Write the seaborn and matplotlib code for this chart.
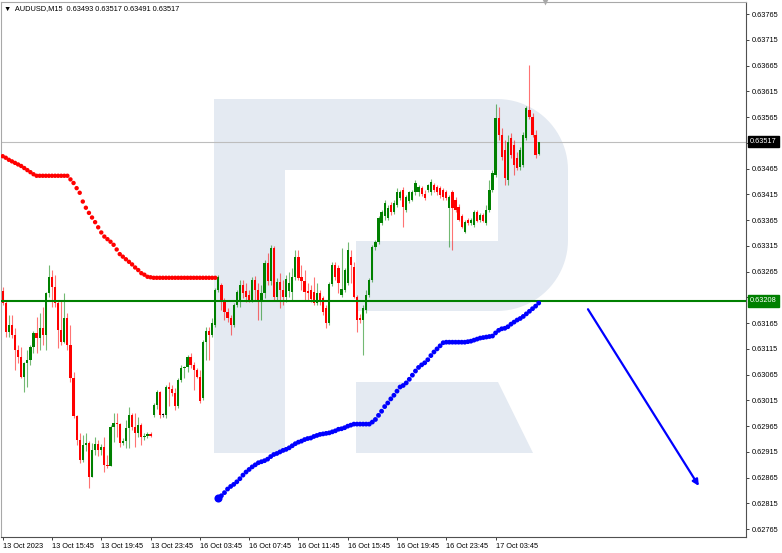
import numpy as np
import pandas as pd
import matplotlib
matplotlib.use("Agg")
import matplotlib.pyplot as plt
import matplotlib.transforms as mtransforms
from matplotlib.patches import Polygon
import seaborn as sns

symbol = "AUDUSD,M15"

# M15 bars, 13 Oct 11:45 -> 13 Oct 23:45, then 16 Oct 00:00 onwards
opens = [
    0.63227, 0.63204, 0.63148, 0.63161, 0.63142, 0.63113, 0.63099, 0.63060, 0.63088, 0.63094,
    0.63119, 0.63146, 0.63136, 0.63156, 0.63142, 0.63224, 0.63255, 0.63235, 0.63204, 0.63152,
    0.63128, 0.63175, 0.63123, 0.63059, 0.62985, 0.62938, 0.62899, 0.62929, 0.62932, 0.62866,
    0.62919, 0.62930, 0.62919, 0.62925, 0.62890, 0.62888, 0.62963, 0.62971, 0.62969, 0.62932,
    0.62936, 0.62962, 0.62987, 0.62963, 0.62952, 0.62967, 0.62944, 0.62946, 0.62950, 0.62987,
    0.63006, 0.63031, 0.62987, 0.62987, 0.63041, 0.63037, 0.63030, 0.63004, 0.63055, 0.63078,
    0.63080, 0.63099, 0.63084, 0.63074, 0.63060, 0.63020, 0.63128, 0.63150, 0.63142, 0.63161,
    0.63229, 0.63239, 0.63206, 0.63187, 0.63175, 0.63161, 0.63200, 0.63206, 0.63239, 0.63227,
    0.63220, 0.63210, 0.63249, 0.63229, 0.63210, 0.63224, 0.63282, 0.63247, 0.63311, 0.63216,
    0.63245, 0.63229, 0.63216, 0.63227, 0.63226, 0.63255, 0.63293, 0.63255, 0.63247, 0.63227,
    0.63229, 0.63226, 0.63204, 0.63224, 0.63214, 0.63194, 0.63165, 0.63241, 0.63278, 0.63272,
    0.63220, 0.63229, 0.63243, 0.63293, 0.63274, 0.63216, 0.63175, 0.63171, 0.63191, 0.63220,
    0.63249, 0.63313, 0.63323, 0.63360, 0.63372, 0.63369, 0.63394, 0.63380, 0.63394, 0.63407,
    0.63423, 0.63385, 0.63402, 0.63404, 0.63419, 0.63419, 0.63427, 0.63415, 0.63423, 0.63419,
    0.63433, 0.63429, 0.63427, 0.63423, 0.63419, 0.63388, 0.63419, 0.63404, 0.63390, 0.63372,
    0.63342, 0.63365, 0.63360, 0.63356, 0.63380, 0.63365, 0.63375, 0.63360, 0.63385, 0.63423,
    0.63453, 0.63563, 0.63530, 0.63501, 0.63443, 0.63524, 0.63511, 0.63486, 0.63468, 0.63472,
    0.63524, 0.63579, 0.63565, 0.63530, 0.63493,
]
highs = [
    0.63235, 0.63210, 0.63181, 0.63181, 0.63156, 0.63123, 0.63119, 0.63090, 0.63113, 0.63123,
    0.63150, 0.63177, 0.63185, 0.63196, 0.63226, 0.63278, 0.63268, 0.63259, 0.63210, 0.63210,
    0.63224, 0.63185, 0.63161, 0.63070, 0.62987, 0.62952, 0.62948, 0.62952, 0.62936, 0.62932,
    0.62944, 0.62938, 0.62930, 0.62944, 0.62909, 0.62967, 0.62991, 0.62991, 0.62971, 0.62942,
    0.62977, 0.63002, 0.62991, 0.62991, 0.62983, 0.62971, 0.62952, 0.62954, 0.62954, 0.63010,
    0.63035, 0.63033, 0.62991, 0.63045, 0.63051, 0.63045, 0.63039, 0.63059, 0.63084, 0.63082,
    0.63103, 0.63107, 0.63090, 0.63078, 0.63074, 0.63132, 0.63158, 0.63158, 0.63175, 0.63233,
    0.63259, 0.63243, 0.63214, 0.63194, 0.63181, 0.63204, 0.63229, 0.63249, 0.63249, 0.63243,
    0.63229, 0.63255, 0.63257, 0.63243, 0.63239, 0.63288, 0.63301, 0.63317, 0.63315, 0.63253,
    0.63262, 0.63249, 0.63259, 0.63264, 0.63272, 0.63307, 0.63307, 0.63278, 0.63268, 0.63243,
    0.63239, 0.63255, 0.63243, 0.63229, 0.63218, 0.63200, 0.63245, 0.63284, 0.63284, 0.63278,
    0.63311, 0.63272, 0.63323, 0.63307, 0.63284, 0.63220, 0.63183, 0.63200, 0.63229, 0.63253,
    0.63317, 0.63326, 0.63373, 0.63384, 0.63404, 0.63394, 0.63400, 0.63404, 0.63427, 0.63423,
    0.63429, 0.63414, 0.63421, 0.63423, 0.63443, 0.63433, 0.63431, 0.63423, 0.63435, 0.63445,
    0.63437, 0.63433, 0.63431, 0.63427, 0.63423, 0.63414, 0.63423, 0.63410, 0.63396, 0.63377,
    0.63365, 0.63369, 0.63369, 0.63385, 0.63385, 0.63379, 0.63379, 0.63394, 0.63443, 0.63462,
    0.63590, 0.63585, 0.63544, 0.63521, 0.63530, 0.63534, 0.63521, 0.63497, 0.63507, 0.63536,
    0.63587, 0.63666, 0.63573, 0.63540, 0.63517,
]
lows = [
    0.63200, 0.63138, 0.63138, 0.63136, 0.63074, 0.63088, 0.63059, 0.63031, 0.63041, 0.63084,
    0.63107, 0.63107, 0.63113, 0.63123, 0.63113, 0.63216, 0.63196, 0.63196, 0.63117, 0.63123,
    0.63127, 0.63113, 0.63051, 0.62981, 0.62929, 0.62894, 0.62896, 0.62917, 0.62845, 0.62866,
    0.62909, 0.62907, 0.62909, 0.62876, 0.62884, 0.62888, 0.62934, 0.62944, 0.62925, 0.62929,
    0.62923, 0.62923, 0.62958, 0.62925, 0.62944, 0.62929, 0.62938, 0.62942, 0.62944, 0.62983,
    0.62998, 0.62981, 0.62983, 0.62981, 0.63004, 0.63024, 0.62997, 0.63000, 0.63051, 0.63059,
    0.63070, 0.63078, 0.63035, 0.63059, 0.63010, 0.63016, 0.63094, 0.63094, 0.63138, 0.63158,
    0.63226, 0.63190, 0.63171, 0.63167, 0.63142, 0.63158, 0.63196, 0.63196, 0.63214, 0.63206,
    0.63206, 0.63206, 0.63210, 0.63171, 0.63171, 0.63214, 0.63239, 0.63239, 0.63210, 0.63210,
    0.63194, 0.63200, 0.63206, 0.63216, 0.63210, 0.63249, 0.63249, 0.63229, 0.63210, 0.63210,
    0.63206, 0.63200, 0.63200, 0.63200, 0.63181, 0.63156, 0.63161, 0.63237, 0.63249, 0.63224,
    0.63216, 0.63226, 0.63239, 0.63243, 0.63214, 0.63148, 0.63165, 0.63103, 0.63185, 0.63216,
    0.63245, 0.63307, 0.63319, 0.63356, 0.63365, 0.63365, 0.63375, 0.63377, 0.63390, 0.63404,
    0.63352, 0.63381, 0.63398, 0.63402, 0.63414, 0.63412, 0.63412, 0.63404, 0.63419, 0.63414,
    0.63419, 0.63414, 0.63408, 0.63404, 0.63404, 0.63313, 0.63307, 0.63381, 0.63363, 0.63350,
    0.63340, 0.63356, 0.63356, 0.63352, 0.63361, 0.63361, 0.63361, 0.63356, 0.63381, 0.63419,
    0.63449, 0.63521, 0.63482, 0.63433, 0.63433, 0.63486, 0.63453, 0.63462, 0.63462, 0.63468,
    0.63521, 0.63561, 0.63526, 0.63486, 0.63491,
]
closes = [
    0.63204, 0.63148, 0.63161, 0.63142, 0.63113, 0.63099, 0.63060, 0.63088, 0.63094, 0.63119,
    0.63146, 0.63136, 0.63156, 0.63142, 0.63224, 0.63255, 0.63235, 0.63204, 0.63152, 0.63128,
    0.63175, 0.63123, 0.63059, 0.62985, 0.62938, 0.62899, 0.62929, 0.62932, 0.62866, 0.62919,
    0.62930, 0.62919, 0.62925, 0.62890, 0.62888, 0.62963, 0.62971, 0.62969, 0.62932, 0.62936,
    0.62962, 0.62987, 0.62963, 0.62952, 0.62967, 0.62944, 0.62946, 0.62950, 0.62946, 0.63006,
    0.63031, 0.62987, 0.62987, 0.63041, 0.63037, 0.63030, 0.63004, 0.63055, 0.63078, 0.63080,
    0.63099, 0.63084, 0.63074, 0.63060, 0.63014, 0.63128, 0.63150, 0.63142, 0.63165, 0.63229,
    0.63255, 0.63206, 0.63187, 0.63175, 0.63161, 0.63200, 0.63226, 0.63239, 0.63224, 0.63216,
    0.63210, 0.63249, 0.63229, 0.63206, 0.63224, 0.63282, 0.63247, 0.63311, 0.63216, 0.63245,
    0.63229, 0.63216, 0.63251, 0.63243, 0.63255, 0.63293, 0.63253, 0.63247, 0.63226, 0.63224,
    0.63212, 0.63204, 0.63224, 0.63206, 0.63187, 0.63165, 0.63241, 0.63278, 0.63255, 0.63243,
    0.63231, 0.63268, 0.63307, 0.63278, 0.63216, 0.63171, 0.63171, 0.63194, 0.63220, 0.63249,
    0.63313, 0.63323, 0.63369, 0.63380, 0.63398, 0.63388, 0.63380, 0.63398, 0.63419, 0.63419,
    0.63390, 0.63410, 0.63419, 0.63419, 0.63437, 0.63429, 0.63415, 0.63408, 0.63433, 0.63439,
    0.63423, 0.63419, 0.63414, 0.63410, 0.63408, 0.63410, 0.63388, 0.63385, 0.63365, 0.63352,
    0.63361, 0.63360, 0.63365, 0.63380, 0.63363, 0.63375, 0.63363, 0.63385, 0.63423, 0.63456,
    0.63563, 0.63530, 0.63488, 0.63447, 0.63517, 0.63491, 0.63472, 0.63466, 0.63501, 0.63530,
    0.63583, 0.63565, 0.63530, 0.63491, 0.63517,
]

# trend dots: red above price while falling (first 70 bars), blue below afterwards
red_dots = [
    0.63489, 0.63486, 0.63482, 0.63479, 0.63476, 0.63473, 0.63470, 0.63466, 0.63462, 0.63458,
    0.63454, 0.63451, 0.63451, 0.63451, 0.63451, 0.63451, 0.63451, 0.63451, 0.63451, 0.63451,
    0.63451, 0.63451, 0.63444, 0.63437, 0.63427, 0.63418, 0.63401, 0.63389, 0.63379, 0.63370,
    0.63361, 0.63351, 0.63341, 0.63333, 0.63328, 0.63323, 0.63317, 0.63308, 0.63299, 0.63294,
    0.63289, 0.63284, 0.63279, 0.63273, 0.63268, 0.63262, 0.63259, 0.63255, 0.63254, 0.63253,
    0.63253, 0.63253, 0.63253, 0.63253, 0.63253, 0.63253, 0.63253, 0.63253, 0.63253, 0.63253,
    0.63253, 0.63253, 0.63253, 0.63253, 0.63253, 0.63253, 0.63253, 0.63253, 0.63253, 0.63253,
]
blue_dots = [
    0.62825, 0.62830, 0.62836, 0.62843, 0.62848, 0.62852, 0.62857, 0.62863, 0.62870, 0.62876,
    0.62881, 0.62886, 0.62890, 0.62894, 0.62896, 0.62898, 0.62901, 0.62906, 0.62910, 0.62912,
    0.62915, 0.62918, 0.62920, 0.62923, 0.62927, 0.62931, 0.62934, 0.62936, 0.62939, 0.62941,
    0.62942, 0.62945, 0.62947, 0.62949, 0.62950, 0.62951, 0.62952, 0.62954, 0.62956, 0.62959,
    0.62960, 0.62962, 0.62965, 0.62967, 0.62969, 0.62969, 0.62969, 0.62969, 0.62969, 0.62969,
    0.62973, 0.62978, 0.62986, 0.62994, 0.63003, 0.63010, 0.63018, 0.63025, 0.63033, 0.63041,
    0.63044, 0.63049, 0.63056, 0.63064, 0.63072, 0.63079, 0.63084, 0.63088, 0.63094, 0.63102,
    0.63109, 0.63115, 0.63121, 0.63127, 0.63128, 0.63128, 0.63128, 0.63128, 0.63128, 0.63128,
    0.63128, 0.63129, 0.63130, 0.63132, 0.63134, 0.63136, 0.63137, 0.63138, 0.63139, 0.63140,
    0.63146, 0.63151, 0.63154, 0.63155, 0.63158, 0.63163, 0.63167, 0.63171, 0.63174, 0.63178,
    0.63183, 0.63188, 0.63193, 0.63198, 0.63204,
]

level_price = 0.63208                 # horizontal level
arrow_from = (190, 0.63192)           # forecast arrow (bar, price)
arrow_to = (226, 0.62849)

times = pd.DatetimeIndex(
    list(pd.date_range("2023-10-13 11:45", "2023-10-13 23:45", freq="15min"))
    + list(pd.date_range("2023-10-16 00:00", periods=126, freq="15min")))
df = pd.DataFrame({"time": times, "open": opens, "high": highs,
                   "low": lows, "close": closes})
df["bar"] = np.arange(len(df))

sns.set_style("white")
plt.rcParams["font.family"] = ["Liberation Sans", "DejaVu Sans"]

W, H = 782, 553
fig = plt.figure(figsize=(W / 100, H / 100), dpi=100, facecolor="white")
ax = fig.add_axes([1 / W, 1 - 537 / H, 745 / W, 535 / H])
ax.set_facecolor("none")


def px(x, y):
    return (x / W, 1 - y / H)


# watermark logo behind the chart
logo = "#e4eaf2"
r = 71
c1 = [(497 + r * np.cos(t), 170 - r * np.sin(t)) for t in np.linspace(np.pi / 2, 0, 24)]
c2 = [(497 + r * np.cos(t), 240 - r * np.sin(t)) for t in np.linspace(0, -np.pi / 2, 24)]
shapes = [
    [(214, 99), (285, 99), (285, 453), (214, 453)],
    [(285, 99)] + c1 + c2 + [(356, 311), (356, 241), (498, 241), (498, 170), (285, 170)],
    [(356, 382), (498, 382), (533, 453), (356, 453)],
]
for s in shapes:
    fig.add_artist(Polygon([px(*p) for p in s], closed=True, transform=fig.transFigure,
                           fc=logo, ec="none", zorder=-1))

# candles
bull, bear = "#008000", "#ff0000"
chg = df.close - df.open
body_col = np.where(chg > 0, bull, np.where(chg < 0, bear, "#000000"))
ax.vlines(df.bar, df.low, df.high, colors=body_col, lw=0.8, alpha=0.55, zorder=2)
h = np.where(chg.abs() < 1.5e-5, np.where(chg < 0, -1.5e-5, 1.5e-5), chg)
ax.bar(df.bar, h, bottom=df.open, width=0.72, color=body_col, lw=0, zorder=3)

# indicator dots
sns.scatterplot(x=np.arange(len(red_dots)), y=red_dots, color="#ff0000", s=10,
                edgecolor="none", ax=ax, zorder=4)
bx = np.arange(len(df) - len(blue_dots), len(df))
sns.scatterplot(x=bx, y=blue_dots, color="#0000ff", s=12, edgecolor="none", ax=ax, zorder=4)
ax.scatter(bx[:1], blue_dots[:1], color="#0000ff", s=34, lw=0, zorder=4)

# levels
ax.axhline(closes[-1], color="#bdbdbd", lw=0.8, zorder=1)
ax.axhline(level_price, color="#008000", lw=1.5, zorder=3)

ax.annotate("", xy=arrow_to, xytext=arrow_from, zorder=5,
            arrowprops=dict(arrowstyle="-|>", color="#0000ff", lw=1.6,
                            mutation_scale=9, shrinkA=0, shrinkB=0))

# axes ranges and ticks
ax.set_xlim(-0.55, 241.3)
ax.set_ylim(0.627499, 0.637883)

ax.yaxis.tick_right()
yt = np.round(np.arange(0.62765, 0.637651, 0.0005), 5)
ax.set_yticks(yt)
# scale labels hidden under the price tags are left blank
ax.set_yticklabels(["" if min(abs(v - closes[-1]), abs(v - level_price)) < 1e-4 else f"{v:.5f}"
                    for v in yt])

xt = df.bar[::16]
xl = ["13 Oct 2023"] + [t.strftime("%d %b %H:%M") for t in df.time[::16][1:]]
ax.set_xticks(xt)
ax.set_xticklabels(xl, ha="left")
off = mtransforms.ScaledTranslation(1.5 / 72, 0, fig.dpi_scale_trans)
for lab in ax.get_xticklabels():
    lab.set_transform(lab.get_transform() + off)

ax.tick_params(axis="both", length=2.5, width=0.7, color="#404040",
               labelsize=5.3, labelcolor="#000000", pad=1.5, direction="out")
ax.tick_params(axis="x", bottom=True)
ax.tick_params(axis="y", right=True, left=False)

for side in ["left", "top"]:
    ax.spines[side].set_color("#a8a8a8")
for side in ["right", "bottom"]:
    ax.spines[side].set_color("#505050")
for sp in ax.spines.values():
    sp.set_linewidth(0.8)
    sp.set_visible(True)

# price tags on the right scale
tag = dict(transform=ax.get_yaxis_transform(), va="center", ha="left", fontsize=5.3,
           color="white", zorder=10, clip_on=False)
ax.text(1.0054, closes[-1], f"{closes[-1]:.5f}",
        bbox=dict(boxstyle="square,pad=0.28", fc="black", ec="black"), **tag)
ax.text(1.0054, level_price, f"{level_price:.5f}",
        bbox=dict(boxstyle="square,pad=0.28", fc="#008000", ec="#008000"), **tag)

# chart shift marker
ax.scatter([len(df) + 1], [1.0], transform=mtransforms.blended_transform_factory(ax.transData, ax.transAxes),
           marker="v", color="#a8a8a8", s=18, lw=0, clip_on=False, zorder=6)

# header
fig.text(4 / W, 1 - 9 / H,
         f"\u25bc  {symbol}  {opens[-1]:.5f} {highs[-1]:.5f} {lows[-1]:.5f} {closes[-1]:.5f}",
         fontsize=5.3, va="center", ha="left", color="#000000",
         family=["Liberation Sans", "DejaVu Sans"])

fig.savefig("out.png", dpi=100, facecolor="white")
